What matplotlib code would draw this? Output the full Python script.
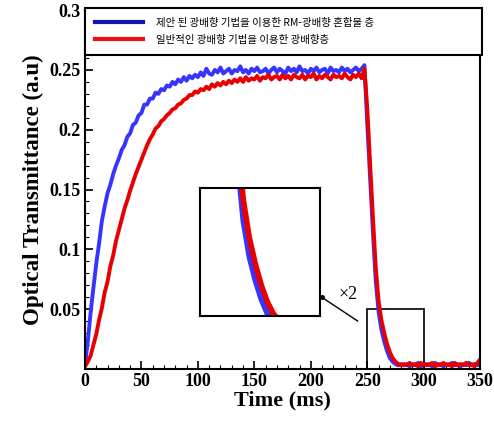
"""Optical transmittance vs time, RM-photoalignment vs conventional photoalignment."""
import numpy as np
import matplotlib
matplotlib.use("Agg")
import matplotlib.pyplot as plt
from matplotlib.lines import Line2D
from matplotlib.patches import Rectangle

OUT = "out.png"

# sampling grid (ms), 2.5 ms steps
time_ms = np.arange(0, 352.5, 2.5)

# blue: proposed RM-photoalignment mixture layer
blue_rise = [0.003, 0.023, 0.047, 0.068, 0.088, 0.105, 0.124, 0.136, 0.147, 0.154,
             0.163, 0.170, 0.176, 0.183, 0.187, 0.194, 0.197, 0.204, 0.206, 0.212,
             0.214, 0.221, 0.221, 0.226, 0.226, 0.231, 0.230, 0.234, 0.233, 0.237,
             0.236, 0.240, 0.238, 0.242, 0.240, 0.244, 0.241, 0.245, 0.243, 0.246]
blue_plateau = [0.244, 0.248, 0.245, 0.251, 0.247, 0.246, 0.250, 0.248, 0.252, 0.247,
                0.249, 0.251, 0.247, 0.250, 0.249, 0.253, 0.248, 0.250, 0.247, 0.251,
                0.249, 0.252, 0.248, 0.249, 0.251, 0.247, 0.250, 0.252, 0.248, 0.251,
                0.249, 0.247, 0.252, 0.249, 0.251, 0.248, 0.253, 0.249, 0.250, 0.247,
                0.251, 0.249, 0.252, 0.248, 0.250, 0.251, 0.247, 0.252, 0.249, 0.250,
                0.248, 0.252, 0.249, 0.251, 0.248, 0.250, 0.252, 0.249, 0.251, 0.254]
blue_decay = [0.205, 0.160, 0.115, 0.074, 0.048, 0.033, 0.023, 0.015, 0.009, 0.006,
              0.004, 0.003, 0.004]
blue_base = [0.003, 0.004, 0.002, 0.004, 0.003, 0.005, 0.002, 0.004, 0.003, 0.004,
             0.002, 0.005, 0.003, 0.004, 0.002, 0.004, 0.003, 0.005, 0.003, 0.004,
             0.002, 0.004, 0.003, 0.005, 0.003, 0.004, 0.003, 0.006]

# red: conventional photoalignment layer
red_rise = [0.002, 0.006, 0.011, 0.020, 0.029, 0.041, 0.051, 0.064, 0.073, 0.086,
            0.095, 0.107, 0.116, 0.125, 0.134, 0.141, 0.149, 0.156, 0.163, 0.169,
            0.175, 0.181, 0.187, 0.192, 0.196, 0.201, 0.203, 0.207, 0.209, 0.212,
            0.214, 0.217, 0.218, 0.221, 0.222, 0.225, 0.226, 0.229, 0.229, 0.232]
red_plateau = [0.231, 0.234, 0.233, 0.236, 0.234, 0.238, 0.236, 0.239, 0.237, 0.240,
               0.238, 0.241, 0.239, 0.242, 0.240, 0.243, 0.240, 0.244, 0.241, 0.243,
               0.242, 0.245, 0.241, 0.244, 0.243, 0.246, 0.242, 0.244, 0.245, 0.242,
               0.246, 0.243, 0.245, 0.242, 0.246, 0.244, 0.243, 0.246, 0.242, 0.245,
               0.244, 0.247, 0.242, 0.245, 0.243, 0.246, 0.244, 0.242, 0.246, 0.244,
               0.245, 0.243, 0.247, 0.244, 0.242, 0.246, 0.244, 0.247, 0.243, 0.251]
red_decay = [0.218, 0.172, 0.127, 0.085, 0.057, 0.041, 0.030, 0.021, 0.014, 0.009,
             0.006, 0.004, 0.003]
red_base = [0.004, 0.003, 0.005, 0.003, 0.004, 0.002, 0.005, 0.003, 0.004, 0.003,
            0.005, 0.002, 0.004, 0.003, 0.005, 0.003, 0.004, 0.002, 0.005, 0.003,
            0.004, 0.003, 0.005, 0.003, 0.004, 0.002, 0.005, 0.008]

blue = np.array(blue_rise + blue_plateau + blue_decay + blue_base)
red = np.array(red_rise + red_plateau + red_decay + red_base)

labels = ["제안 된 광배향 기법을 이용한 RM-광배향 혼합물 층",
          "일반적인 광배향 기법을 이용한 광배향층"]
x_ticks = [0, 50, 100, 150, 200, 250, 300, 350]
y_ticks = [0.05, 0.1, 0.15, 0.2, 0.25, 0.3]

SERIF = ["Liberation Serif", "DejaVu Serif"]
KR = ["Noto Sans CJK KR", "DejaVu Sans"]
C_BLUE = "#3535ff"
C_RED = "#e80000"

fig = plt.figure(figsize=(4.94, 4.23), dpi=100)
ax = fig.add_axes([0.172, 0.128, 0.800, 0.848])

ax.plot(time_ms, blue, color=C_BLUE, lw=2.8)
ax.plot(time_ms, red, color=C_RED, lw=2.8)

ax.set_xlim(0, 350)
ax.set_ylim(0, 0.3)
ax.set_xticks(x_ticks)
ax.set_xticklabels([str(v) for v in x_ticks])
ax.set_yticks(y_ticks)
ax.set_yticklabels([f"{v:g}" for v in y_ticks])
ax.set_xticks(np.arange(0, 351, 10), minor=True)
ax.set_yticks(np.arange(0, 0.301, 0.01), minor=True)
ax.tick_params(which="major", direction="in", length=6, width=1.2, pad=3)
ax.tick_params(which="minor", direction="in", length=3, width=0.8)
for lab in ax.get_xticklabels() + ax.get_yticklabels():
    lab.set_family(SERIF)
    lab.set_fontweight("bold")
    lab.set_fontsize(13)
for s in ax.spines.values():
    s.set_linewidth(1.5)

ax.set_xlabel("Time (ms)", family=SERIF, fontweight="bold", fontsize=16, labelpad=0)
ax.set_ylabel("Optical Transmittance (a.u)", family=SERIF, fontweight="bold",
              fontsize=16.5, labelpad=4)

# zoom box and callout
ax.add_patch(Rectangle((250, 0), 50, 0.05, fill=False, ec="black", lw=1.2))
ax.plot([209.5, 241.5], [0.060, 0.040], color="black", lw=1)
ax.plot([209.5], [0.060], "o", color="black", ms=2.5)
ax.text(233, 0.062, "×2", family=SERIF, fontsize=13, ha="center", va="center")

# legend across the top
handles = [Line2D([], [], color="#1414b4", lw=3),
           Line2D([], [], color="#ee1010", lw=3)]
leg = ax.legend(handles, labels, loc="upper left", mode="expand",
                bbox_to_anchor=(0, 0, 1.004, 1.006), borderaxespad=0,
                prop={"family": KR, "size": 7.5}, handlelength=4.6,
                handletextpad=1.3, labelspacing=0.65, borderpad=0.95,
                frameon=True, fancybox=False, framealpha=1, edgecolor="black")
leg.get_frame().set_linewidth(1.5)

# inset (x2 magnified)
ins = fig.add_axes([0.405, 0.253, 0.243, 0.303])
ins.plot(time_ms, blue, color=C_BLUE, lw=4)
ins.plot(time_ms, red, color=C_RED, lw=4)
ins.set_xlim(242, 292)
ins.set_ylim(0.008, 0.062)
ins.set_xticks([])
ins.set_yticks([])
for s in ins.spines.values():
    s.set_linewidth(1.5)

fig.savefig(OUT, dpi=100)
print(f"Saved: {OUT}")
